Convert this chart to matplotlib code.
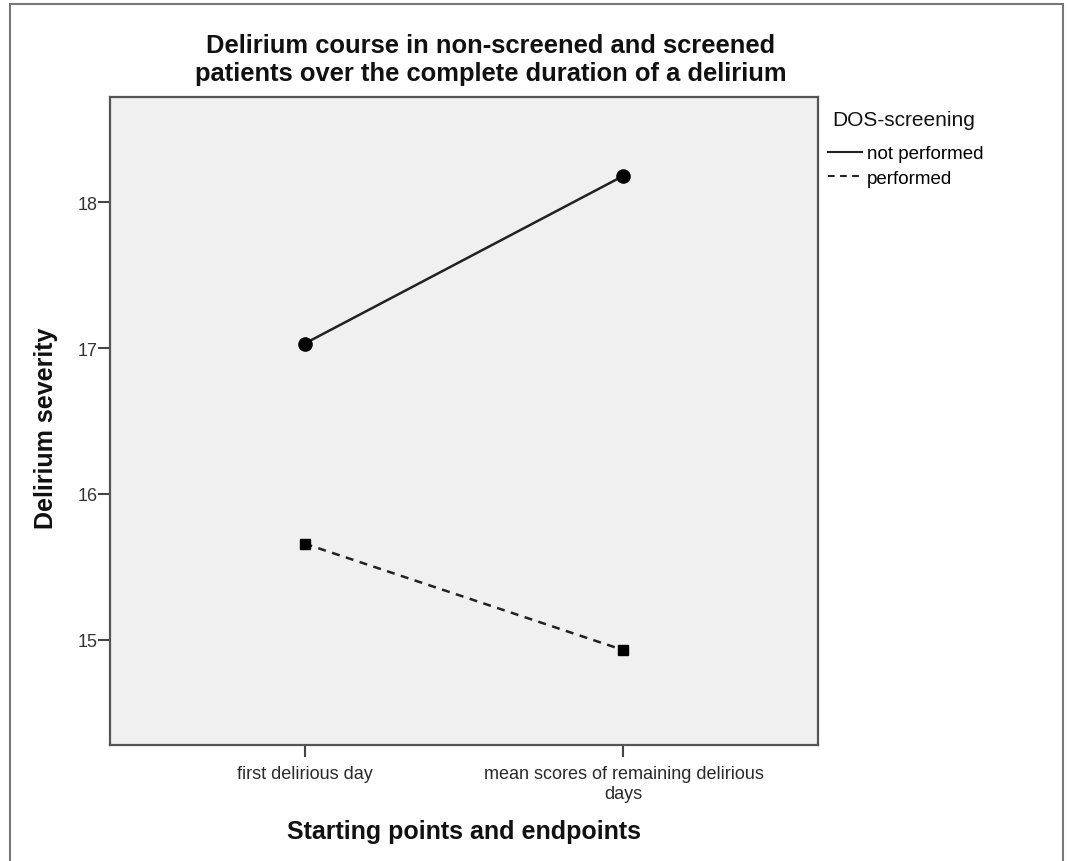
import matplotlib.pyplot as plt
from matplotlib.patches import Rectangle

plt.rcParams['font.family'] = ['Liberation Sans', 'DejaVu Sans']

# data
categories = ['first delirious day', 'mean scores of remaining delirious\ndays']
not_performed = [17.03, 18.18]
performed = [15.66, 14.93]
yticks = [15, 16, 17, 18]

W, H = 1068, 862
fig = plt.figure(figsize=(W / 100, H / 100), dpi=100)
# plot box: x 110..818, y 98..746 (pixels)
ax = fig.add_axes([110 / W, 1 - 746 / H, (818 - 110) / W, (746 - 98) / H])
ax.set_facecolor('#f0f0f0')

x = list(range(len(categories)))
ax.plot(x, not_performed, color='#222222', lw=1.8, ls='-',
        marker='o', ms=9.5, mfc='black', mec='black', label='not performed')
ax.plot(x, performed, color='#222222', lw=1.8, ls=(0, (3.2, 2.6)),
        marker='s', ms=7.5, mfc='black', mec='black', label='performed')

ax.set_xlim(-0.61, 1.61)
ax.set_ylim(14.28, 18.72)
ax.set_xticks(x)
ax.set_xticklabels(categories, fontsize=13, color='#2a2a2a')
ax.set_yticks(yticks)
ax.set_yticklabels([str(v) for v in yticks], fontsize=13, color='#333333')
ax.tick_params(axis='both', direction='out', length=8.5, width=1.5, color='#444444')
ax.tick_params(axis='x', pad=6)
ax.tick_params(axis='y', pad=0.5)
for s in ax.spines.values():
    s.set_color('#555555')
    s.set_linewidth(1.6)

ax.set_title('Delirium course in non-screened and screened\npatients over the complete duration of a delirium',
             fontsize=18.4, fontweight='bold', color='#111111', linespacing=1.2,
             x=(491 - 110) / 708, y=1 + (98 - 68) / 648, va='center')

ax.set_xlabel('Starting points and endpoints', fontsize=18, fontweight='bold', color='#111111')
ax.xaxis.label.set_va('center')
ax.xaxis.set_label_coords(0.5, -(832 - 746) / 648)

ax.set_ylabel('Delirium severity', fontsize=18, fontweight='bold', color='#111111')
ax.yaxis.label.set_va('center')
ax.yaxis.set_label_coords(-(110 - 46) / 708, (746 - 428) / 648)

# legend
fig.text(832 / W, 1 - 121 / H, 'DOS-screening', fontsize=15, color='#111111', va='center', ha='left')
leg = fig.legend(loc='upper left', bbox_to_anchor=(828 / W, 1 - 146 / H), frameon=False,
                 fontsize=13.5, handlelength=1.8, handletextpad=0.27, labelspacing=0.4,
                 borderpad=0, borderaxespad=0)
for h in leg.legend_handles:
    h.set_marker('')
    h.set_linewidth(1.5)

# outer frame of the chart image
fig.add_artist(Rectangle((10 / W, -0.05), (1063 - 10) / W, 1 - 5 / H + 0.05,
                         transform=fig.transFigure, fill=False, ec='#777777', lw=1.5))

fig.savefig('out.png', dpi=100)
